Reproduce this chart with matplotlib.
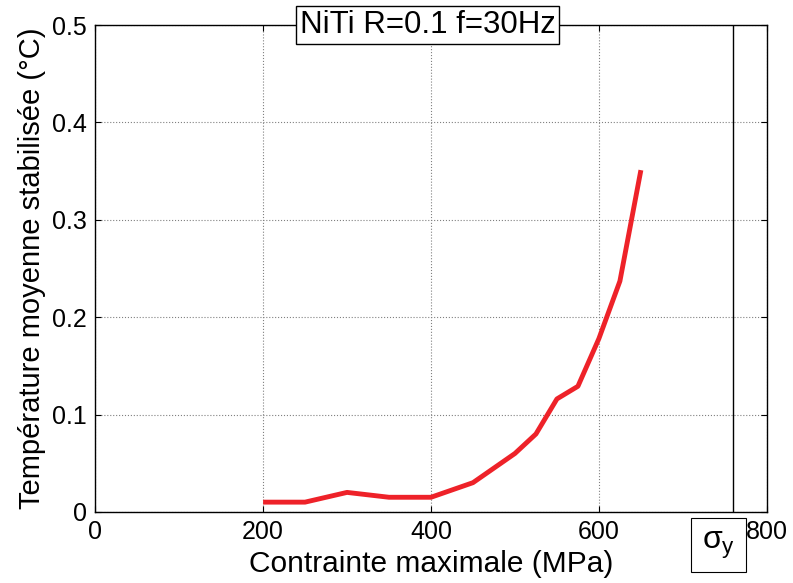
import numpy as np
import matplotlib
matplotlib.use("Agg")
import matplotlib.pyplot as plt

plt.rcParams["font.family"] = ["Liberation Sans", "DejaVu Sans"]
plt.rcParams["mathtext.fontset"] = "custom"
plt.rcParams["mathtext.rm"] = "Liberation Sans"
plt.rcParams["mathtext.it"] = "Liberation Sans"

stress = [200, 250, 300, 350, 400, 450, 500, 525, 550, 575, 600, 625, 650]
temp = [0.01, 0.01, 0.02, 0.015, 0.015, 0.03, 0.06, 0.08, 0.116, 0.129, 0.178, 0.237, 0.351]
sigma_y = 760
title_txt = "NiTi R=0.1 f=30Hz"

fig = plt.figure(figsize=(7.93, 5.83), dpi=100)
ax = fig.add_axes([0.12, 0.122, 0.847, 0.835])

ax.plot(stress, temp, color="#ee2229", lw=3.5, solid_capstyle="butt")
ax.axvline(sigma_y, color="black", lw=1)

ax.set_xlim(0, 800)
ax.set_ylim(0, 0.5)
ax.set_xticks([0, 200, 400, 600, 800])
ax.set_yticks([0, 0.1, 0.2, 0.3, 0.4, 0.5])
ax.set_yticklabels(["0", "0.1", "0.2", "0.3", "0.4", "0.5"])
ax.tick_params(direction="in", top=True, right=True, labelsize=18, length=4, pad=6)
ax.grid(True, color="gray", linestyle=":", lw=0.8)
for s in ax.spines.values():
    s.set_linewidth(1)

ax.set_xlabel("Contrainte maximale (MPa)", fontsize=21.5, labelpad=4)
ax.set_ylabel("Température moyenne stabilisée (°C)", fontsize=21, labelpad=4)

ax.text(396, 0.5, title_txt, ha="center", va="center", fontsize=22.5,
        bbox=dict(boxstyle="square,pad=0.12", fc="white", ec="black", lw=1))
ax.text(742, -0.034, r"$\sigma_y$", ha="center", va="center", fontsize=23,
        clip_on=False,
        bbox=dict(boxstyle="square,pad=0.35", fc="white", ec="black", lw=0.8))

fig.savefig("out.png", dpi=100)
